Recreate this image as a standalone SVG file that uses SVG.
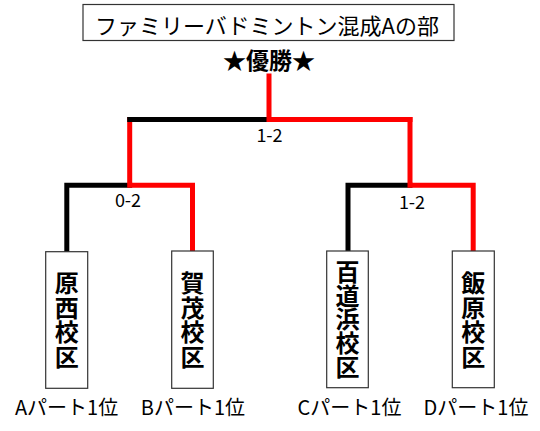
<svg xmlns="http://www.w3.org/2000/svg" width="540" height="431" viewBox="0 0 540 431">
<style>
.bk{stroke:#000;stroke-width:5;fill:none;stroke-linecap:square}
.rd{stroke:#ff0000;stroke-width:5;fill:none;stroke-linecap:square}
.box{fill:#fff;stroke:#333;stroke-width:1.2}
.t{font-family:"Noto Sans CJK JP","Noto Sans",sans-serif;fill:#000}
.vt{font-family:"Noto Sans CJK JP",sans-serif;font-size:24px;font-weight:bold;text-anchor:middle;fill:#000;writing-mode:vertical-rl;text-orientation:upright}
.lb{font-family:"Noto Sans CJK JP","Noto Sans",sans-serif;font-size:20px;text-anchor:middle;fill:#000}
.sc{font-family:"Noto Sans CJK JP","Noto Sans",sans-serif;font-size:18px;text-anchor:middle;fill:#000}
</style>
<rect width="540" height="431" fill="#fff"/>
<g id="title">
<rect class="box" x="83" y="4.5" width="371" height="36"/>
<text class="t" x="267" y="34" font-size="22" text-anchor="middle">ファミリーバドミントン混成Aの部</text>
</g>
<g id="champion">
<text class="t" x="269" y="69" font-size="23" font-weight="bold" text-anchor="middle">★優勝★</text>
</g>
<g id="connectors">
<polyline class="bk" points="66.8,250 66.8,185.3 129.7,185.3"/>
<polyline class="rd" points="192.5,250 192.5,185.3 129.7,185.3 129.7,119.5"/>
<polyline class="bk" points="348,250 348,185.3 410,185.3"/>
<polyline class="rd" points="473.2,250 473.2,185.3 410,185.3 410,119.5"/>
<polyline class="bk" points="129.7,119.5 269,119.5"/>
<polyline class="rd" points="410,119.5 269,119.5 269,76"/>
<text class="sc" x="269.5" y="141.5">1-2</text>
<text class="sc" x="128" y="207">0-2</text>
<text class="sc" x="412" y="209">1-2</text>
</g>
<g id="node-haranishi">
<rect class="box" x="45.7" y="251.7" width="42" height="136.6"/>
<text class="vt" x="66.7" y="320" letter-spacing="0.5">原西校区</text>
<text class="lb" x="66.6" y="415">Aパート1位</text>
</g>
<g id="node-kamo">
<rect class="box" x="171.7" y="251" width="41.6" height="137.3"/>
<text class="vt" x="192.5" y="320" letter-spacing="0.5">賀茂校区</text>
<text class="lb" x="192.9" y="415">Bパート1位</text>
</g>
<g id="node-momochihama">
<rect class="box" x="326.7" y="251" width="41.6" height="136.7"/>
<text class="vt" x="347.5" y="319.2" letter-spacing="-0.2">百道浜校区</text>
<text class="lb" x="349.5" y="415">Cパート1位</text>
</g>
<g id="node-iihara">
<rect class="box" x="452.3" y="251" width="42" height="136.7"/>
<text class="vt" x="473.3" y="320" letter-spacing="0.5">飯原校区</text>
<text class="lb" x="476" y="415">Dパート1位</text>
</g>
</svg>
